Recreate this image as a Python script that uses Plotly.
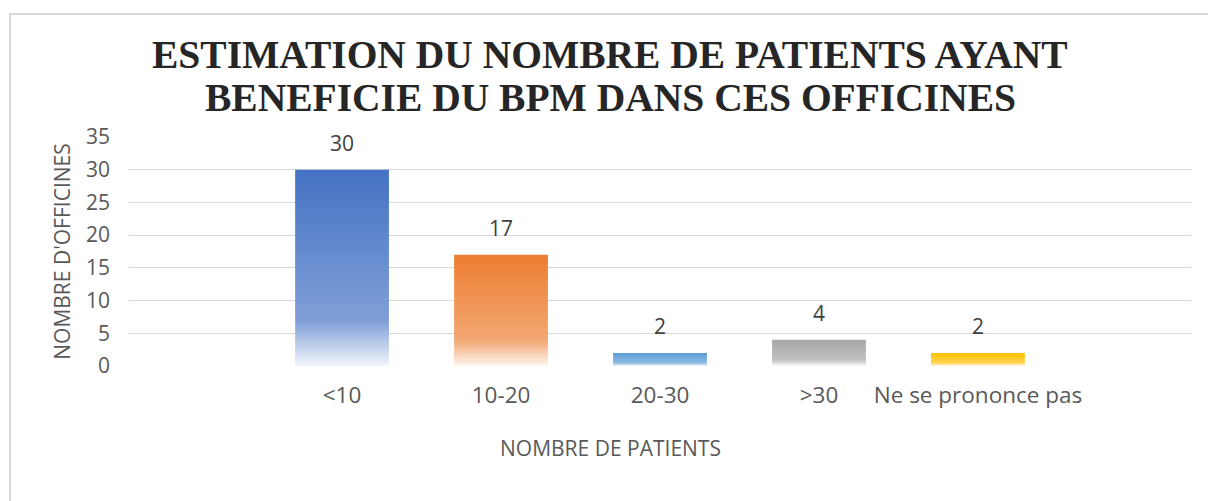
import plotly.graph_objects as go

# Data
categories = ["<10", "10-20", "20-30", ">30", "Ne se prononce pas"]
values = [30, 17, 2, 4, 2]
bar_colors = ["#4472C4", "#ED7D31", "#5B9BD5", "#A5A5A5", "#FFC000"]
y_ticks = [0, 5, 10, 15, 20, 25, 30, 35]

title_lines = ["ESTIMATION DU NOMBRE DE PATIENTS AYANT",
               "BENEFICIE DU BPM DANS CES OFFICINES"]
x_title = "NOMBRE DE PATIENTS"
y_title = "NOMBRE D'OFFICINES"

BAR_W = 0.59
CENTER_X = 0.453  # horizontal centre of the chart area, in plot-paper units


def tint(hex_color, f):
    """Blend a hex colour towards white by fraction f."""
    h = hex_color.lstrip("#")
    r, g, b = (int(h[i:i + 2], 16) for i in (0, 2, 4))
    r, g, b = (round(c + (255 - c) * f) for c in (r, g, b))
    return f"rgb({r},{g},{b})"


fig = go.Figure()

# Bars drawn as filled shapes so they can carry a vertical gradient
for i, (cat, v, col) in enumerate(zip(categories, values, bar_colors)):
    x0, x1 = i - BAR_W / 2, i + BAR_W / 2
    fig.add_trace(go.Scatter(
        x=[x0, x1, x1, x0, x0],
        y=[0, 0, v, v, 0],
        mode="lines",
        fill="toself",
        line=dict(width=0, color=col),
        fillgradient=dict(
            type="vertical",
            colorscale=[[0, tint(col, 0.93)], [0.23, tint(col, 0.32)], [1, col]],
        ),
        hoverinfo="skip",
        showlegend=False,
        name=cat,
    ))
    # value label above each bar
    fig.add_annotation(
        x=i, y=v, xref="x", yref="y",
        text=str(v), showarrow=False,
        yanchor="bottom", yshift=11,
        font=dict(family="Open Sans", size=21, color="#404040"),
    )

# Two-line chart title
title_y = [1.36, 1.172]
for line, ty in zip(title_lines, title_y):
    fig.add_annotation(
        x=CENTER_X, y=ty, xref="paper", yref="paper",
        text=f"<b>{line}</b>", showarrow=False,
        xanchor="center", yanchor="middle",
        font=dict(family="Liberation Serif", size=39.5, color="#262626"),
    )

# Horizontal axis title, centred on the chart area
fig.add_annotation(
    x=CENTER_X, y=-0.358, xref="paper", yref="paper",
    text=x_title, showarrow=False,
    xanchor="center", yanchor="middle",
    font=dict(family="Open Sans", size=21, color="#595959"),
)

# Chart area border
fig.add_shape(
    type="rect", xref="paper", yref="paper",
    x0=-0.1121, x1=1.2, y0=-1.0, y1=1.537,
    line=dict(color="#D9D9D9", width=2),
    fillcolor="rgba(0,0,0,0)", layer="below",
)

fig.update_layout(
    width=1208, height=501,
    margin=dict(l=129, r=17, t=137, b=135),
    paper_bgcolor="white",
    plot_bgcolor="white",
    showlegend=False,
    xaxis=dict(
        range=[-1.34, len(categories) - 1 + 1.34],
        tickmode="array",
        tickvals=list(range(len(categories))),
        ticktext=categories,
        tickfont=dict(family="Open Sans", size=22.5, color="#595959"),
        showgrid=False,
        zeroline=False,
        showline=False,
        ticks="",
        ticklabelstandoff=13,
        fixedrange=True,
    ),
    yaxis=dict(
        range=[0, 35],
        tickmode="array",
        tickvals=y_ticks,
        tickfont=dict(family="Open Sans", size=21, color="#595959"),
        showgrid=True,
        gridcolor="#D9D9D9",
        gridwidth=1.3,
        zeroline=False,
        showline=False,
        ticks="",
        ticklabelstandoff=18,
        title=dict(text=y_title, font=dict(family="Open Sans", size=21, color="#595959"), standoff=9),
        fixedrange=True,
    ),
)

fig.write_html("out.html")
